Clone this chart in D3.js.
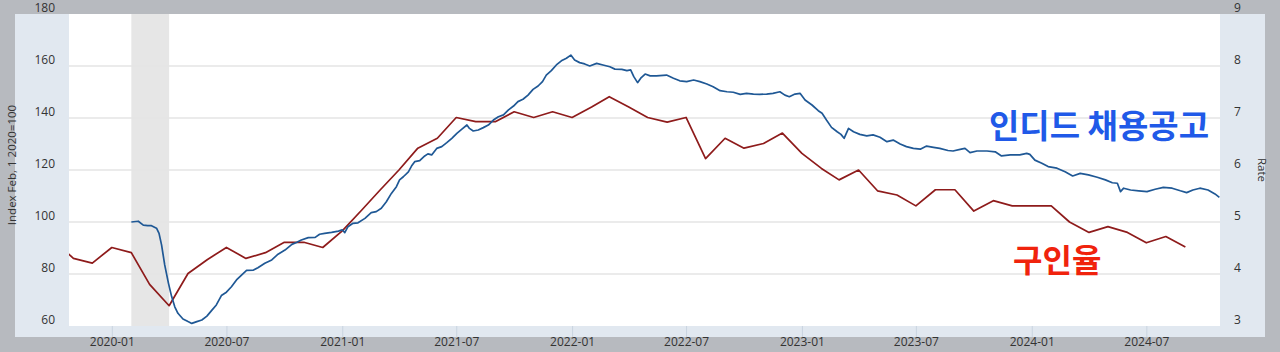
<!DOCTYPE html>
<html>
<head>
<meta charset="utf-8">
<script src="https://cdn.jsdelivr.net/npm/d3@7"></script>
<style>
    body { margin: 0; background: #b7babf; }
    svg { display: block; font-family: "Open Sans", sans-serif; }
</style>
</head>
<body>
<svg id="chart" width="1280" height="352"></svg>
<script>
// Indeed job postings index (Feb 1 2020 = 100)
const postingDates = [
    "2020-02-01","2020-02-12","2020-02-20","2020-02-27","2020-03-04","2020-03-12","2020-03-16","2020-03-20",
    "2020-03-25","2020-03-31","2020-04-05","2020-04-10","2020-04-15","2020-04-23","2020-05-01","2020-05-07",
    "2020-05-15","2020-05-23","2020-05-31","2020-06-07","2020-06-15","2020-06-23","2020-07-01","2020-07-09",
    "2020-07-17","2020-07-25","2020-08-02","2020-08-13","2020-08-20","2020-08-31","2020-09-11","2020-09-21",
    "2020-10-02","2020-10-13","2020-10-21","2020-10-28","2020-11-08","2020-11-19","2020-11-26","2020-12-04",
    "2020-12-15","2020-12-26","2021-01-01","2021-01-05","2021-01-10","2021-01-18","2021-01-26","2021-02-06",
    "2021-02-16","2021-02-24","2021-03-04","2021-03-12","2021-03-20","2021-03-28","2021-04-02","2021-04-08",
    "2021-04-16","2021-04-21","2021-04-26","2021-05-04","2021-05-12","2021-05-17","2021-05-23","2021-05-31",
    "2021-06-08","2021-06-16","2021-06-24","2021-07-02","2021-07-10","2021-07-18","2021-07-22","2021-07-28",
    "2021-08-05","2021-08-13","2021-08-21","2021-08-29","2021-09-06","2021-09-14","2021-09-22","2021-09-30",
    "2021-10-07","2021-10-15","2021-10-23","2021-10-31","2021-11-08","2021-11-15","2021-11-21","2021-11-29",
    "2021-12-07","2021-12-15","2021-12-23","2021-12-30","2022-01-05","2022-01-13","2022-01-21","2022-01-29",
    "2022-02-09","2022-02-19","2022-03-02","2022-03-10","2022-03-21","2022-03-29","2022-04-04","2022-04-09",
    "2022-04-15","2022-04-20","2022-04-27","2022-05-05","2022-05-15","2022-05-31","2022-06-11","2022-06-21",
    "2022-07-02","2022-07-13","2022-07-23","2022-08-03","2022-08-13","2022-08-24","2022-09-04","2022-09-14",
    "2022-09-25","2022-10-05","2022-10-16","2022-10-26","2022-11-06","2022-11-16","2022-11-27","2022-12-05",
    "2022-12-12","2022-12-21","2022-12-29","2023-01-06","2023-01-17","2023-01-27","2023-02-02","2023-02-09",
    "2023-02-17","2023-02-26","2023-03-04","2023-03-09","2023-03-16","2023-03-24","2023-04-03","2023-04-14",
    "2023-04-24","2023-05-05","2023-05-16","2023-05-26","2023-06-06","2023-06-16","2023-06-27","2023-07-08",
    "2023-07-18","2023-07-29","2023-08-08","2023-08-21","2023-08-29","2023-09-11","2023-09-17","2023-09-25",
    "2023-10-06","2023-10-22","2023-11-04","2023-11-14","2023-11-28","2023-12-13","2023-12-24","2023-12-29",
    "2024-01-06","2024-01-17","2024-01-27","2024-02-10","2024-02-23","2024-03-06","2024-03-18","2024-03-31",
    "2024-04-14","2024-04-27","2024-05-08","2024-05-16","2024-05-21","2024-05-26","2024-06-06","2024-06-19",
    "2024-07-02","2024-07-15","2024-07-28","2024-08-11","2024-08-24","2024-09-03","2024-09-13","2024-09-24",
    "2024-10-07","2024-10-18","2024-10-25"
];
const postingIndex = [
    100.0,100.3,98.8,98.6,98.6,97.6,95.6,91.2,
    83.5,76.4,71.3,67.4,64.9,62.7,61.7,61.0,
    61.7,62.3,63.8,65.8,68.1,71.7,73.0,75.1,
    77.7,79.6,81.4,81.5,82.4,84.1,85.4,87.6,
    89.2,91.4,92.2,93.1,94.0,94.1,95.3,95.6,
    96.0,96.5,97.0,95.9,98.2,99.5,99.7,101.4,
    103.6,104.0,105.3,107.8,111.0,113.6,116.2,117.4,
    119.3,121.5,123.2,123.6,125.4,126.2,125.8,128.3,
    129.0,130.5,132.2,134.1,135.7,137.3,136.0,135.0,
    135.4,136.3,137.3,139.2,140.5,141.2,143.1,144.6,
    146.3,147.2,148.8,151.0,152.3,154.0,156.5,158.2,
    160.4,162.0,163.0,164.2,162.3,161.3,160.8,160.0,
    161.0,160.4,159.7,158.8,158.7,158.2,158.5,155.9,
    153.6,155.3,156.9,156.2,156.2,156.5,155.3,154.3,
    154.0,154.6,154.0,153.1,152.0,150.5,150.1,149.9,
    149.1,149.5,149.2,149.1,149.2,149.5,150.1,148.8,
    148.2,149.2,149.5,146.9,145.0,142.8,141.8,139.2,
    136.4,134.7,133.7,132.2,136.0,134.7,133.7,133.1,
    133.5,132.6,130.9,131.5,130.0,129.0,128.3,128.0,
    129.2,128.7,128.3,127.5,127.3,128.0,128.3,126.7,
    127.3,127.3,127.0,125.4,125.8,125.8,126.4,126.0,
    123.8,122.6,121.3,120.7,119.3,117.7,118.7,118.1,
    117.2,116.2,115.1,114.9,111.7,113.0,112.3,112.0,
    111.7,112.6,113.3,113.0,112.0,111.3,112.3,113.0,
    112.3,110.8,109.5
];

// Job openings rate, monthly (%)
const rateMonths = [
    "2019-10","2019-11","2019-12",
    "2020-01","2020-02","2020-03","2020-04","2020-05","2020-06","2020-07","2020-08","2020-09","2020-10","2020-11","2020-12",
    "2021-01","2021-02","2021-03","2021-04","2021-05","2021-06","2021-07","2021-08","2021-09","2021-10","2021-11","2021-12",
    "2022-01","2022-02","2022-03","2022-04","2022-05","2022-06","2022-07","2022-08","2022-09","2022-10","2022-11","2022-12",
    "2023-01","2023-02","2023-03","2023-04","2023-05","2023-06","2023-07","2023-08","2023-09","2023-10","2023-11","2023-12",
    "2024-01","2024-02","2024-03","2024-04","2024-05","2024-06","2024-07","2024-08","2024-09"
];
const rateValues = [
    4.65, 4.30, 4.21,
    4.51, 4.41, 3.80, 3.39, 4.01, 4.28, 4.51, 4.30, 4.41, 4.61, 4.61, 4.51,
    4.83, 5.23, 5.60, 6.00, 6.42, 6.61, 7.01, 6.93, 6.93, 7.12, 7.01, 7.12,
    7.01, 7.21, 7.41, 7.21, 7.01, 6.92, 7.01, 6.22, 6.61, 6.42, 6.51, 6.71,
    6.32, 6.03, 5.81, 6.00, 5.60, 5.52, 5.31, 5.62, 5.62, 5.21, 5.41, 5.31,
    5.31, 5.31, 5.00, 4.80, 4.91, 4.80, 4.60, 4.72, 4.52
];

const xTicks = ["2020-01","2020-07","2021-01","2021-07","2022-01","2022-07","2023-01","2023-07","2024-01","2024-07"];
const leftTicks = [60, 80, 100, 120, 140, 160, 180];
const rightTicks = [3, 4, 5, 6, 7, 8, 9];
const recession = ["2020-02-01", "2020-04-01"];
const xDomain = ["2019-10-25", "2024-10-26"];

const parseDay = d3.utcParse("%Y-%m-%d");
const parseMonth = d3.utcParse("%Y-%m");

const plot = { left: 69, right: 1220, top: 14, bottom: 326 };
const panel = { left: 15, right: 1265, top: 14, bottom: 337 };

const svg = d3.select("#chart");

const x = d3.scaleUtc()
    .domain(xDomain.map(parseDay))
    .range([plot.left, plot.right]);
const yLeft = d3.scaleLinear().domain([60, 180]).range([plot.bottom, plot.top]);
const yRight = d3.scaleLinear().domain([3, 9]).range([plot.bottom, plot.top]);

// panel + plot backgrounds
svg.append("rect")
    .attr("x", panel.left).attr("y", panel.top)
    .attr("width", panel.right - panel.left).attr("height", panel.bottom - panel.top)
    .attr("fill", "#e1e8f0");
svg.append("rect")
    .attr("x", plot.left).attr("y", plot.top)
    .attr("width", plot.right - plot.left).attr("height", plot.bottom - plot.top)
    .attr("fill", "#ffffff");

// recession band
svg.append("rect")
    .attr("x", x(parseDay(recession[0])))
    .attr("y", plot.top)
    .attr("width", x(parseDay(recession[1])) - x(parseDay(recession[0])))
    .attr("height", plot.bottom - plot.top)
    .attr("fill", "#e6e6e6");

// gridlines
svg.append("g").selectAll("line")
    .data(leftTicks.slice(1, -1))
    .join("line")
    .attr("x1", plot.left).attr("x2", plot.right)
    .attr("y1", d => yLeft(d)).attr("y2", d => yLeft(d))
    .attr("stroke", "#e4e4e4")
    .attr("stroke-width", 1.5);

// x axis
let xAxis = svg.append("g")
    .attr("transform", `translate(0, ${plot.bottom})`)
    .call(d3.axisBottom(x)
        .tickValues(xTicks.map(parseMonth))
        .tickSize(panel.bottom - plot.bottom)
        .tickPadding(0)
        .tickFormat(d3.utcFormat("%Y-%m")))
    .attr("font-family", null);
xAxis.select(".domain").remove();
xAxis.selectAll("line").attr("stroke", "#c9d4e0");
xAxis.selectAll("text")
    .style("font-size", "12px")
    .attr("fill", "#333");

// left axis
let leftAxis = svg.append("g")
    .attr("transform", `translate(${plot.left}, 0)`)
    .call(d3.axisLeft(yLeft).tickValues(leftTicks).tickSize(0).tickPadding(14))
    .attr("font-family", null);
leftAxis.select(".domain").remove();
leftAxis.selectAll("text")
    .attr("dy", -2.5)
    .style("font-size", "12px")
    .attr("fill", "#333");

// right axis
let rightAxis = svg.append("g")
    .attr("transform", `translate(${plot.right}, 0)`)
    .call(d3.axisRight(yRight).tickValues(rightTicks).tickSize(0).tickPadding(14).tickFormat(d3.format("d")))
    .attr("font-family", null);
rightAxis.select(".domain").remove();
rightAxis.selectAll("text")
    .attr("dy", -2.5)
    .style("font-size", "12px")
    .attr("fill", "#333");

// axis titles
svg.append("text")
    .attr("transform", "translate(16, 165) rotate(-90)")
    .attr("text-anchor", "middle")
    .style("font-size", "11.5px")
    .attr("fill", "#333")
    .text("Index Feb, 1 2020=100");
svg.append("text")
    .attr("transform", "translate(1258, 170) rotate(90)")
    .attr("text-anchor", "middle")
    .style("font-size", "11.5px")
    .attr("fill", "#333")
    .text("Rate");

// clip for lines
svg.append("defs").append("clipPath").attr("id", "plot-clip")
    .append("rect")
    .attr("x", plot.left).attr("y", plot.top)
    .attr("width", plot.right - plot.left).attr("height", plot.bottom - plot.top);

let lines = svg.append("g").attr("clip-path", "url(#plot-clip)");

let rateLine = d3.line()
    .x((d, i) => x(parseMonth(rateMonths[i])))
    .y(d => yRight(d));
lines.append("path")
    .datum(rateValues)
    .attr("d", rateLine)
    .attr("fill", "none")
    .attr("stroke", "#8e1b1b")
    .attr("stroke-width", 1.7)
    .attr("stroke-linejoin", "round");

let postingLine = d3.line()
    .x((d, i) => x(parseDay(postingDates[i])))
    .y(d => yLeft(d));
lines.append("path")
    .datum(postingIndex)
    .attr("d", postingLine)
    .attr("fill", "none")
    .attr("stroke", "#1f5895")
    .attr("stroke-width", 1.7)
    .attr("stroke-linejoin", "round");

// annotations
svg.append("text")
    .attr("x", 989).attr("y", 138)
    .style("font-family", "'Noto Sans CJK KR', sans-serif")
    .style("font-size", "33px")
    .style("font-weight", "bold")
    .attr("fill", "#2059e8")
    .text("인디드 채용공고");
svg.append("text")
    .attr("x", 1013).attr("y", 272)
    .style("font-family", "'Noto Sans CJK KR', sans-serif")
    .style("font-size", "32px")
    .style("font-weight", "bold")
    .attr("fill", "#f0230d")
    .text("구인율");
</script>
</body>
</html>
